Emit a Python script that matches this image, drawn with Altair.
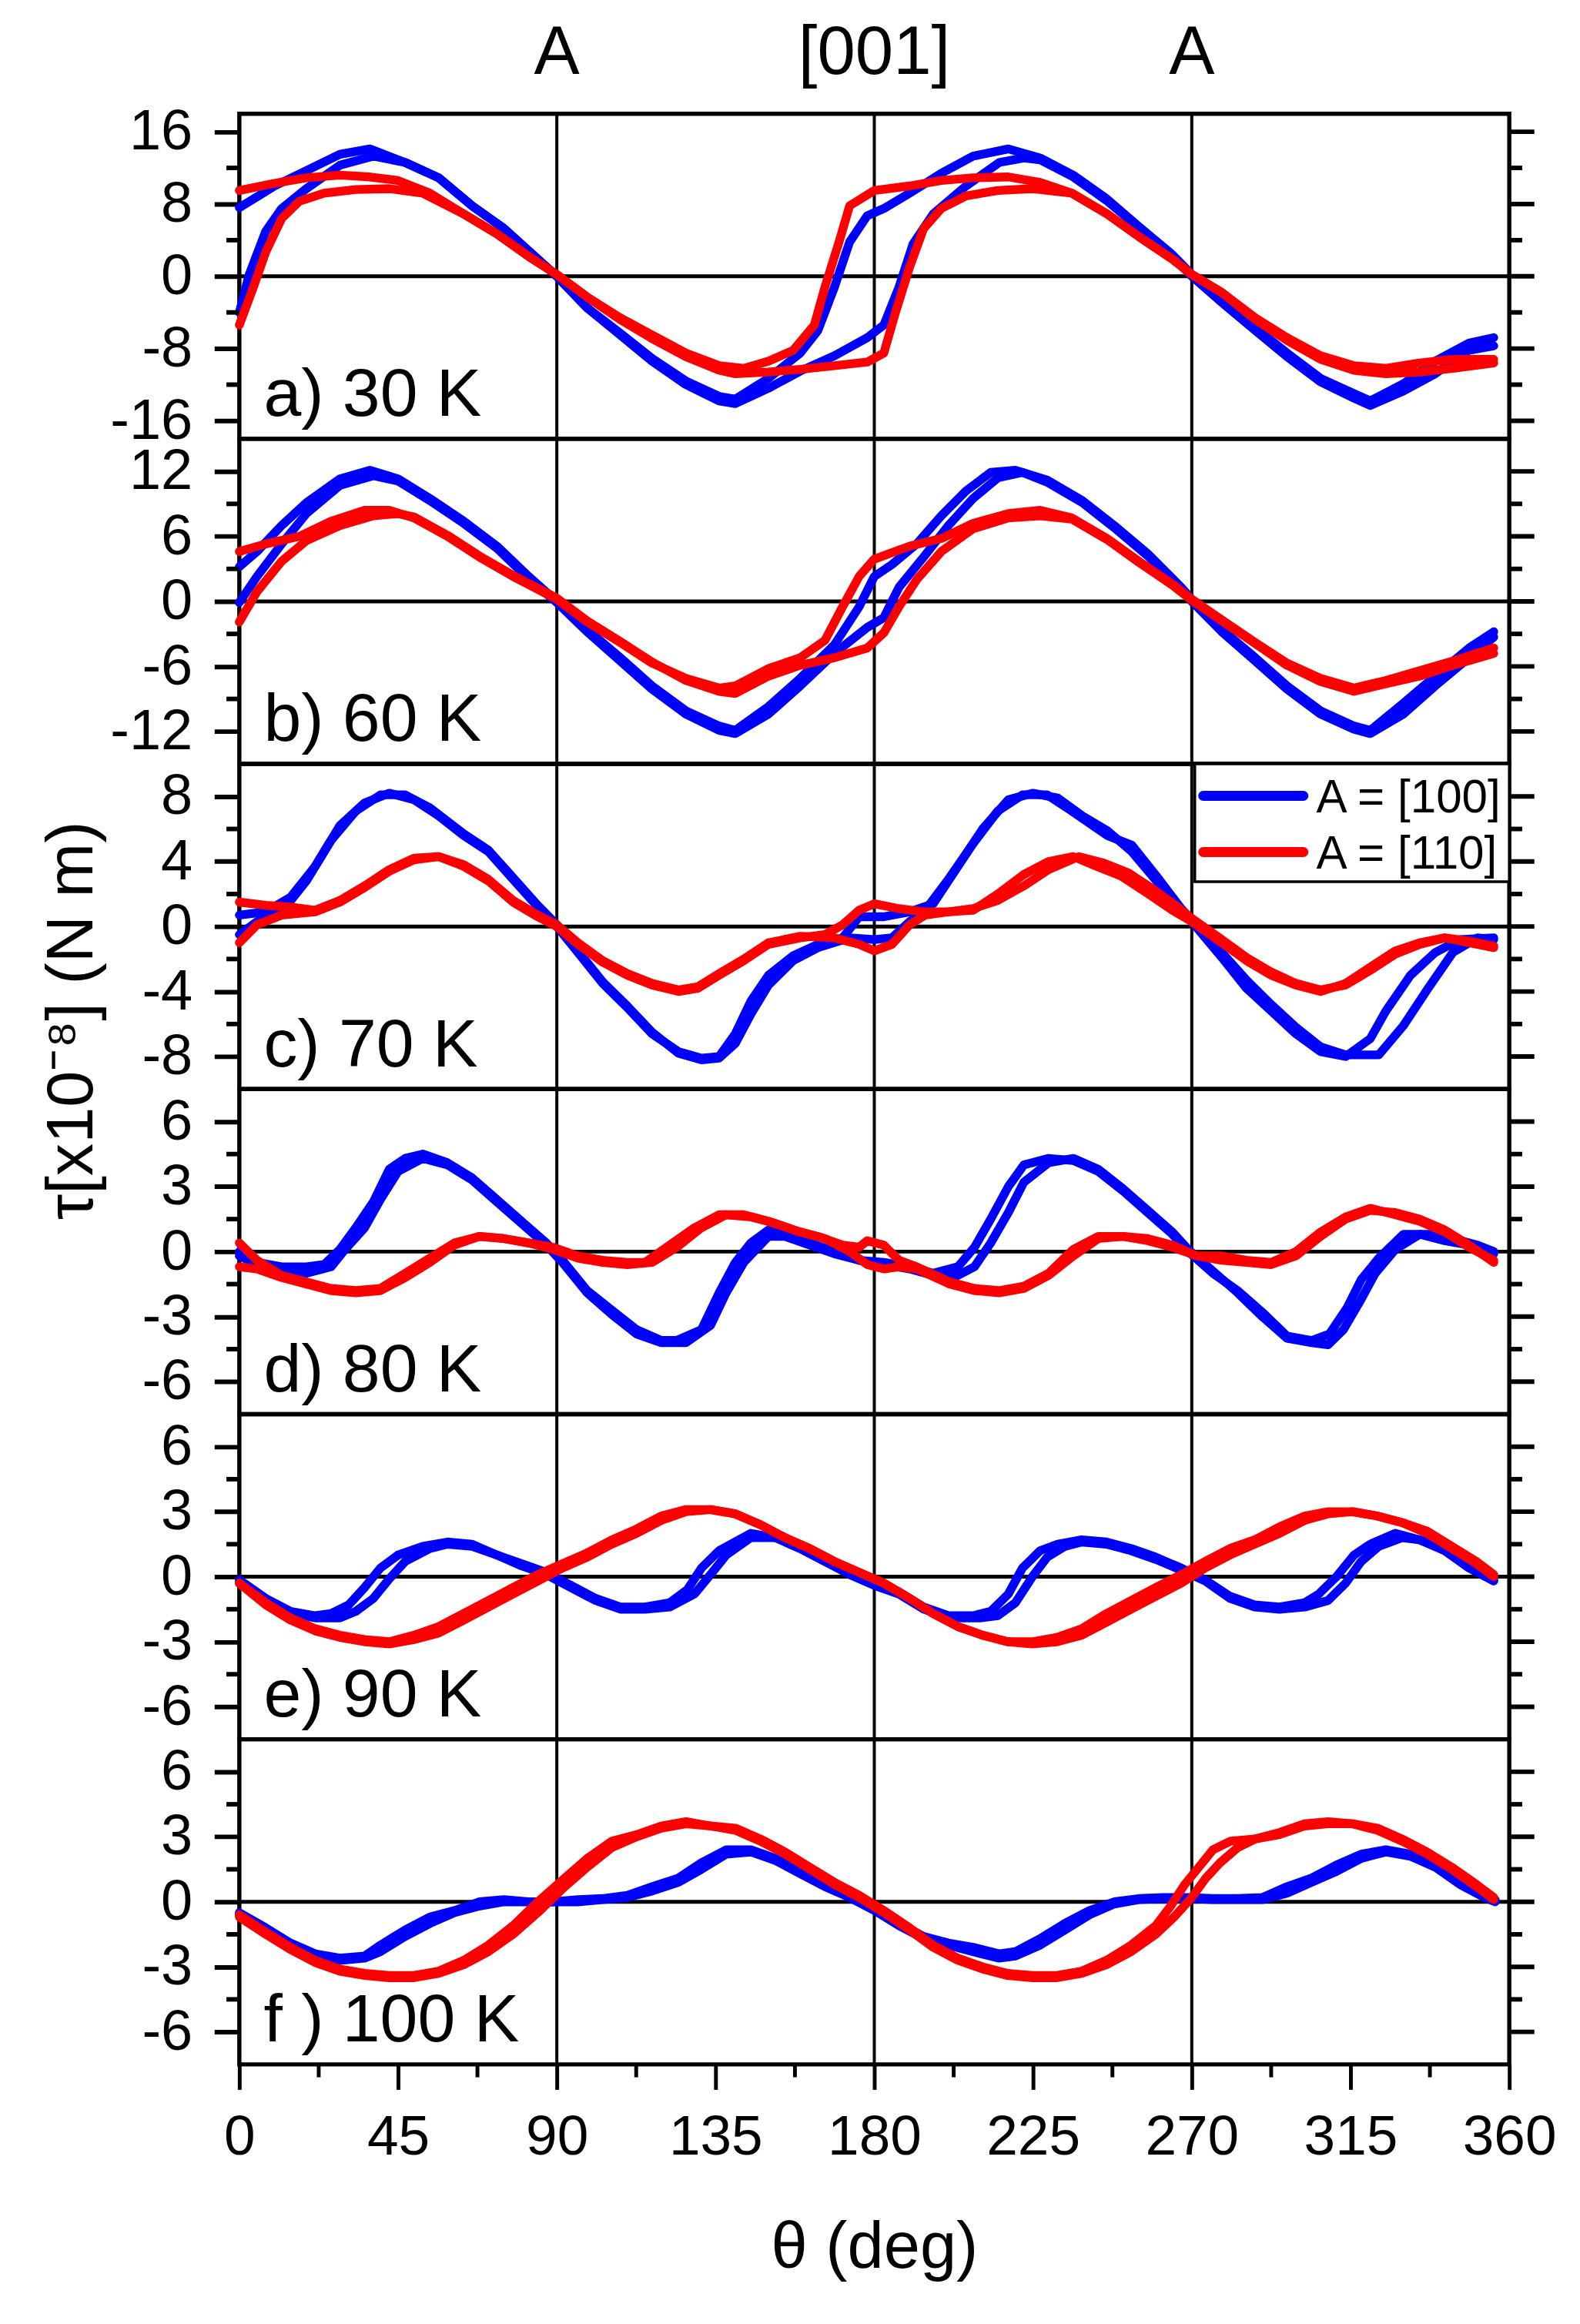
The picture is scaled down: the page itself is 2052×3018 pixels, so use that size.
import altair as alt
import pandas as pd

FONT = "Liberation Sans, Arial, Helvetica, sans-serif"
W, H = 1672, 428

SERIES = ["A = [100]", "A = [110]"]
COLORS = ["#0000FF", "#FF0000"]
PANEL_LABELS = ["a) 30 K", "b) 60 K", "c) 70 K", "d) 80 K", "e) 90 K", "f ) 100 K"]
TOP_THETA = [90, 180, 270]
TOP_LABELS = ["A", "[001]", "A"]
GRID_THETA = [90, 180, 270]
THETA_TICKS = [0, 45, 90, 135, 180, 225, 270, 315, 360]
THETA_MINOR = [22.5, 67.5, 112.5, 157.5, 202.5, 247.5, 292.5, 337.5]
Y_DOMAINS = [[-18, 18], [-15, 15], [-10, 10], [-7.5, 7.5], [-7.5, 7.5], [-7.5, 7.5]]
Y_TICKS = [[-16, -8, 0, 8, 16], [-12, -6, 0, 6, 12], [-8, -4, 0, 4, 8],
           [-6, -3, 0, 3, 6], [-6, -3, 0, 3, 6], [-6, -3, 0, 3, 6]]
Y_MINOR = [[-12, -4, 4, 12], [-9, -3, 3, 9], [-6, -2, 2, 6],
           [-4.5, -1.5, 1.5, 4.5], [-4.5, -1.5, 1.5, 4.5], [-4.5, -1.5, 1.5, 4.5]]
Y_TITLE = "τ[x10⁻⁸] (N m)"
X_TITLE = "θ (deg)"

# ---------------- 30 K ----------------
K30_BLUE_1 = [(0,7.6),(10,10.0),(19,11.7),(28.5,13.5),(37,14.1),(47,12.6),(56.5,10.9),(66,7.8),(75,5.3),(84.6,1.9),(90,0),(98.6,-3.5),(108,-6.3),(117,-9.1),(126.6,-11.6),(136,-13.3),(140.6,-13.6),(150,-11.3),(159,-8.5),(164,-6.0),(168.7,-1.2),(173,3.8),(178,6.7),(182.7,7.5),(190,9.2),(199,11.4),(208,13.3),(218,14.1),(227,13.1),(236.4,11.2),(245.8,8.6),(255,5.5),(264.5,2.4),(270,0.2),(278.5,-2.6),(288,-5.7),(297,-8.5),(306.5,-11.3),(316,-13.0),(320.6,-13.8),(330,-11.9),(339,-9.4),(348.6,-7.4),(355.6,-6.8)]
K30_BLUE_2 = [(0,-4.0),(2.8,0.2),(7.5,5.0),(12,7.5),(19,9.7),(28.5,12.3),(38,13.3),(47,12.6),(56.5,10.9),(66,7.8),(75,5.3),(84.6,1.9),(90,0),(98.6,-3.5),(108,-6.5),(117,-9.4),(126.6,-12.0),(136,-13.8),(140.6,-14.1),(150,-12.4),(159,-10.5),(168.7,-8.8),(178,-6.8),(182.7,-5.4),(187,-1.2),(191,3.6),(196.7,6.9),(206,10.0),(215.4,12.6),(222.4,13.1),(227,12.9),(236.4,11.0),(245.8,8.4),(255,5.4),(264.5,2.2),(270,0),(278.5,-2.9),(288,-6.0),(297,-8.9),(306.5,-11.7),(316,-13.5),(320.6,-14.3),(330,-12.7),(339,-10.8),(348.6,-8.2),(355.6,-7.7)]
K30_RED_1 = [(0,9.5),(10,10.3),(19,10.9),(28.5,11.2),(37,11.0),(45,10.6),(54,9.2),(63.6,6.9),(73,4.7),(82,2.2),(90,0.2),(98.6,-2.3),(108,-4.6),(117,-6.5),(126.6,-8.5),(136,-9.9),(143,-10.2),(150,-9.4),(157,-8.2),(163,-5.4),(166,-1.2),(170,3.8),(173,7.8),(180,9.5),(190,10.0),(199,10.6),(208,10.9),(218,11.0),(227,10.4),(236,9.2),(246,6.9),(255,4.4),(264.5,1.9),(270,0.2),(278.5,-1.8),(288,-4.6),(297,-6.8),(306.5,-8.8),(316,-9.9),(325,-10.2),(334.6,-9.6),(344,-9.2),(355.6,-9.2)]
K30_RED_2 = [(0,-5.4),(4,-1.2),(7.5,2.7),(12,6.4),(17,8.3),(24,9.2),(33,9.6),(42.5,9.7),(52,9.2),(63.6,6.9),(73,4.7),(82,2.2),(90,0.2),(98.6,-2.3),(108,-4.8),(117,-6.9),(126.6,-8.9),(136,-10.4),(140.6,-10.8),(150,-10.6),(159,-10.3),(168.7,-9.9),(178,-9.5),(182.7,-8.5),(186,-4.0),(190,1.0),(194,5.3),(199,7.5),(206,8.9),(215,9.5),(225,9.7),(236,9.2),(246,6.9),(255,4.4),(264.5,1.9),(270,0.2),(278.5,-1.8),(288,-4.8),(297,-7.1),(306.5,-9.2),(316,-10.4),(325,-10.8),(334.6,-10.6),(344,-10.2),(355.6,-9.6)]

# ---------------- 60 K ----------------
K60_BLUE_1 = [(0,3.2),(5,4.6),(12,7.0),(19,9.1),(28.5,11.3),(37,12.1),(45,11.3),(54,9.5),(63.6,7.4),(73,5.1),(82,2.3),(90,0),(98.6,-2.6),(108,-5.2),(117,-7.8),(126.6,-10.1),(136,-11.5),(140.6,-11.9),(150,-9.7),(159,-7.1),(168.7,-4.0),(175.7,-0.5),(180,2.3),(185,3.4),(192,5.3),(199,7.9),(206,10.2),(213,11.9),(220,12.1),(229,11.2),(239,9.3),(248,7.0),(257.5,4.4),(267,1.3),(270,0.2),(278.5,-2.6),(288,-5.2),(297,-7.8),(306.5,-10.1),(316,-11.5),(320.6,-11.9),(330,-9.4),(339,-6.9),(348.6,-4.3),(355.6,-2.8)]
K60_BLUE_2 = [(0,-0.1),(5,2.3),(12,5.3),(19,8.1),(28.5,10.7),(38,11.6),(45,11.1),(54,9.3),(63.6,7.2),(73,4.9),(82,2.1),(90,-0.1),(98.6,-2.8),(108,-5.5),(117,-8.1),(126.6,-10.4),(136,-11.9),(140.6,-12.2),(150,-10.4),(159,-7.8),(168.7,-4.8),(178,-2.4),(182.7,-1.5),(187,1.3),(194,4.1),(201,7.0),(208,9.5),(215,11.4),(222,11.9),(229,11.0),(239,9.1),(248,6.8),(257.5,4.2),(267,1.1),(270,0),(278.5,-2.8),(288,-5.5),(297,-8.1),(306.5,-10.4),(316,-11.8),(320.6,-12.2),(330,-10.4),(339,-7.8),(348.6,-5.2),(355.6,-3.3)]
K60_RED_1 = [(0,4.6),(7.5,5.3),(17,6.0),(26,7.4),(35.5,8.4),(42.5,8.4),(49.5,7.7),(59,6.0),(68,4.1),(77.6,2.3),(90,0.2),(98.6,-1.9),(108,-3.8),(117,-5.7),(126.6,-7.1),(136,-8.0),(140.6,-7.8),(150,-6.2),(159,-5.2),(166,-3.6),(171,-0.5),(175.7,2.3),(180,3.9),(190,5.1),(199,5.8),(208,7.2),(218,8.1),(227,8.4),(236,7.7),(246,5.8),(255,3.7),(264.5,1.6),(270,0.2),(278.5,-1.7),(288,-3.8),(297,-5.7),(306.5,-7.1),(316,-8.0),(325,-7.3),(334.6,-6.4),(344,-5.5),(355.6,-4.3)]
K60_RED_2 = [(0,-1.9),(5,0.9),(12,3.7),(19,5.6),(28.5,7.0),(38,7.9),(45,8.1),(49.5,7.8),(59,6.1),(68,4.2),(77.6,2.4),(90,0.3),(98.6,-1.8),(108,-3.7),(117,-5.6),(126.6,-7.3),(136,-8.3),(140.6,-8.5),(150,-6.9),(159,-5.9),(168.7,-5.2),(178,-4.3),(182.7,-2.9),(187,-0.5),(192,2.0),(199,4.6),(208,6.7),(218,7.7),(227,7.9),(236,7.6),(246,5.7),(255,3.6),(264.5,1.5),(270,0.1),(278.5,-1.8),(288,-3.9),(297,-5.9),(306.5,-7.4),(316,-8.3),(325,-7.6),(334.6,-6.9),(344,-5.9),(355.6,-4.8)]

# ---------------- 70 K ----------------
K70_BLUE_1 = [(0,0.7),(7.5,0.9),(14.5,1.8),(21.5,3.7),(28.5,6.2),(35.5,7.6),(42.5,8.2),(49.5,7.8),(56.5,6.8),(63.6,5.6),(70.6,4.6),(77.6,2.9),(84.6,1.2),(90,0),(96,-1.6),(103,-3.5),(110,-5.0),(117,-6.6),(124.5,-7.7),(131,-8.1),(136,-8.0),(140.6,-6.6),(145,-4.6),(150,-3.0),(157,-1.8),(164,-1.1),(171,-0.7),(175.7,0.6),(182.7,0.6),(190,0.9),(196.7,1.4),(203.7,3.7),(210.7,6.0),(218,7.8),(225,8.2),(232,7.9),(239,6.8),(246,5.9),(253,4.6),(260,2.8),(267,0.9),(270,0.3),(278.5,-1.9),(285.5,-3.8),(292.5,-5.2),(299.5,-6.6),(306.5,-7.7),(313.6,-8.0),(320.6,-6.9),(325,-5.2),(332,-3.0),(339,-1.6),(346,-0.8),(355.6,-0.7)]
K70_BLUE_2 = [(0,-0.5),(5,0.3),(12,0.9),(19,2.8),(26,5.3),(33,7.1),(40,8.1),(47,8.1),(54,7.3),(63.6,5.7),(70.6,4.7),(77.6,3.0),(84.6,1.3),(90,0.1),(96,-1.5),(103,-3.4),(110,-4.9),(117,-6.5),(124.5,-7.8),(131,-8.2),(136,-8.1),(140.6,-7.2),(145,-5.4),(150,-3.6),(157,-2.1),(164,-1.3),(173,-0.7),(180,-0.8),(185,-0.7),(190,0.3),(194.4,1.0),(201,2.9),(208,5.1),(215,7.1),(222,8.1),(229,8.1),(236,7.1),(246,5.6),(253,5.0),(260,3.1),(267,1.1),(270,0.4),(278.5,-1.6),(285.5,-3.3),(292.5,-4.8),(299.5,-6.2),(306.5,-7.4),(313.6,-7.9),(323,-7.9),(330,-6.1),(337,-3.8),(344,-1.6),(351,-0.7),(355.6,-0.8)]
K70_RED_1 = [(0,1.5),(7.5,1.3),(14.5,1.2),(21.5,1.0),(28.5,1.6),(35.5,2.5),(42.5,3.5),(49.5,4.2),(56.5,4.3),(63.6,3.7),(70.6,2.8),(77.6,1.5),(84.6,0.6),(90,0),(96,-1.1),(103,-2.2),(110,-3.0),(117,-3.6),(124.5,-4.0),(130,-3.8),(136,-3.0),(143,-2.1),(150,-1.1),(159,-0.7),(166,-0.5),(171,0.1),(175.7,1.0),(180,1.4),(187,1.1),(194,0.9),(201,0.9),(208,1.0),(215,2.0),(222.4,3.2),(229.4,4.0),(236.4,4.3),(243,3.7),(250,3.1),(257,2.1),(264.5,1.0),(270,0.3),(278.5,-1.0),(285.5,-2.1),(292.5,-3.0),(299.5,-3.6),(306.5,-4.0),(313.6,-3.5),(320.6,-2.5),(327.7,-1.5),(334.6,-1.0),(341.7,-0.7),(348.6,-1.0),(355.6,-1.3)]
K70_RED_2 = [(0,-1.0),(5,0.1),(12,0.7),(21.5,0.9),(28.5,1.5),(35.5,2.4),(42.5,3.4),(49.5,4.1),(56.5,4.3),(63.6,3.8),(70.6,2.9),(77.6,1.6),(84.6,0.7),(90,0.1),(96,-1.0),(103,-2.1),(110,-2.9),(117,-3.5),(124.5,-3.9),(130,-3.7),(136,-2.9),(143,-2.0),(150,-1.0),(159,-0.6),(168.7,-0.7),(175.7,-1.1),(180,-1.5),(185,-1.1),(190,0.1),(194.4,0.7),(201,0.9),(208,1.1),(215,1.6),(222.4,2.5),(229.4,3.5),(238,4.3),(245,3.9),(252,3.3),(259,2.3),(266,1.2),(270,0.5),(278.5,-0.8),(285.5,-1.9),(292.5,-2.8),(299.5,-3.5),(306.5,-3.9),(313.6,-3.6),(320.6,-2.7),(327.7,-1.7),(334.6,-1.1),(341.7,-0.7),(348.6,-0.9),(355.6,-1.2)]

# ---------------- 80 K ----------------
K80_BLUE_1 = [(0,0),(5,-0.5),(12,-0.7),(19,-0.7),(24,-0.6),(28.5,0.1),(33,1.1),(38,2.3),(42.5,3.8),(47,4.3),(52,4.5),(59,4.1),(66,3.4),(73,2.4),(80,1.4),(87,0.4),(91.6,-0.4),(98.6,-1.8),(105.6,-2.7),(112.6,-3.6),(119.6,-4.1),(124,-4.1),(131,-3.6),(136,-1.9),(140.6,-0.5),(145,0.4),(150,1.0),(154.7,0.8),(161.7,0.4),(168.7,0),(175.7,-0.4),(182.7,-0.5),(190,-0.7),(196.7,-1.0),(203.7,-0.7),(208.4,0.2),(213,1.5),(218,3.0),(222.4,4.0),(229.4,4.3),(236.4,4.2),(243.5,3.7),(250.5,2.8),(257.5,1.8),(264.5,0.8),(269,0),(276,-1.0),(283,-1.8),(290,-2.8),(297,-3.9),(304,-4.1),(309,-3.8),(314,-2.6),(318,-1.3),(323,-0.3),(330,0.8),(337,0.8),(344,0.6),(351,0.3),(355.6,0)]
K80_BLUE_2 = [(0,-0.2),(5,-0.6),(12,-0.9),(19,-1.0),(26,-0.7),(30,0.1),(35.5,1.1),(40,2.4),(45,3.7),(52,4.3),(59,4.0),(66,3.3),(73,2.3),(80,1.3),(87,0.3),(91.6,-0.5),(98.6,-1.9),(105.6,-2.9),(112.6,-3.8),(119.6,-4.2),(126.6,-4.2),(133.6,-3.4),(138,-1.9),(143,-0.5),(150,0.7),(154.7,0.7),(161.7,0.3),(168.7,-0.1),(175.7,-0.4),(182.7,-0.6),(190,-0.8),(196.7,-1.1),(203.7,-1.1),(208.4,-0.7),(213,0.4),(218,1.8),(222.4,3.2),(229.4,4.1),(236.4,4.3),(243.5,3.8),(250.5,2.9),(257.5,1.9),(264.5,0.9),(269,0.1),(276,-0.9),(283,-1.9),(290,-3.0),(297,-4.0),(304,-4.2),(308.6,-4.3),(313,-3.6),(318,-2.2),(322,-1.0),(327.7,0.1),(334.6,0.8),(341.7,0.5),(348.6,0.3),(355.6,-0.1)]
K80_RED_1 = [(0,0.4),(5,-0.4),(12,-1.1),(19,-1.4),(26,-1.7),(33,-1.8),(40,-1.7),(47,-1.0),(54,-0.3),(61,0.4),(68,0.7),(75,0.6),(82,0.4),(89,0.2),(96,-0.2),(103,-0.4),(110,-0.5),(115,-0.5),(122,0.3),(129,1.1),(136,1.7),(143,1.7),(150,1.4),(157,1.0),(164,0.7),(171,0.3),(175.7,0.2),(178,0.5),(182.7,0.3),(187,-0.4),(192,-0.7),(201.4,-1.4),(208.4,-1.7),(215.4,-1.8),(222.4,-1.6),(229.4,-1.0),(236.4,0.1),(243.5,0.7),(250.5,0.7),(257.5,0.6),(264.5,0.3),(271.5,-0.2),(278.5,-0.2),(285.5,-0.4),(292.5,-0.5),(299.5,0),(306.5,0.9),(313.6,1.6),(320.6,2.0),(327.7,1.7),(334.6,1.4),(341.7,0.9),(348.6,0.2),(355.6,-0.4)]
K80_RED_2 = [(0,-0.7),(5,-0.8),(12,-1.2),(19,-1.5),(26,-1.8),(33,-1.9),(40,-1.8),(47,-1.2),(54,-0.5),(61,0.3),(68,0.7),(75,0.6),(82,0.4),(89,0.1),(96,-0.3),(103,-0.5),(110,-0.6),(117,-0.5),(124,0.2),(131,1.1),(138,1.7),(145,1.6),(152,1.3),(159,0.9),(166,0.6),(173,0),(178,-0.6),(182.7,-0.8),(187,-0.7),(192,-0.8),(201.4,-1.5),(208.4,-1.8),(215.4,-1.9),(222.4,-1.7),(229.4,-1.1),(236.4,-0.2),(243.5,0.6),(250.5,0.7),(257.5,0.5),(264.5,0.2),(271.5,-0.2),(278.5,-0.4),(285.5,-0.5),(292.5,-0.6),(299.5,-0.2),(306.5,0.7),(313.6,1.5),(320.6,1.9),(327.7,1.8),(334.6,1.5),(341.7,1.0),(348.6,0.3),(355.6,-0.5)]

# ---------------- 90 K ----------------
K90_BLUE_1 = [(0,-0.15),(7.5,-1.0),(14.5,-1.6),(21.5,-1.8),(26,-1.7),(31,-1.3),(35.5,-0.5),(40,0.4),(45,1.0),(52,1.4),(59,1.6),(66,1.5),(73,1.0),(80,0.6),(87,0.2),(94,-0.4),(101,-1.0),(108,-1.4),(115,-1.4),(122,-1.2),(127,-0.6),(131,0.4),(136,1.2),(145,2.0),(152,1.8),(159,1.3),(166,0.7),(173,0.2),(180,-0.3),(187,-0.7),(194,-1.4),(201,-1.8),(208,-1.8),(213,-1.6),(218,-0.8),(222,0.4),(227,1.2),(232,1.5),(238.8,1.7),(245.8,1.6),(252.8,1.3),(259.8,0.9),(267,0.4),(273.8,-0.15),(280.8,-0.9),(287.8,-1.3),(294.9,-1.4),(302,-1.2),(306,-0.8),(311,0.0),(316,1.0),(320.6,1.5),(327.7,2.0),(334.6,1.7),(341.7,1.3),(348.6,0.5),(355.6,-0.15)]
K90_BLUE_2 = [(0,-0.2),(7.5,-1.1),(14.5,-1.7),(21.5,-1.9),(28.5,-1.9),(33,-1.6),(38,-1.0),(42.5,-0.1),(47,0.7),(54,1.3),(59,1.5),(66,1.4),(73,1.0),(80,0.5),(87,0.1),(94,-0.5),(101,-1.1),(108,-1.5),(115,-1.5),(122,-1.4),(129,-0.8),(133.6,0.1),(138,1.0),(145,1.8),(152,1.8),(159,1.3),(166,0.7),(173,0.1),(180,-0.4),(187,-0.8),(194,-1.5),(201,-1.9),(210,-1.9),(215,-1.8),(220,-1.2),(224.8,0.0),(229,0.9),(234,1.4),(238.8,1.6),(245.8,1.5),(252.8,1.2),(259.8,0.8),(267,0.3),(273.8,-0.2),(280.8,-1.0),(287.8,-1.4),(294.9,-1.5),(302,-1.4),(308.6,-1.1),(313.6,-0.3),(318,0.7),(323,1.4),(329.6,1.8),(334.6,1.7),(341.7,1.2),(348.6,0.4),(355.6,-0.2)]
K90_RED_1 = [(0,-0.3),(7.5,-1.2),(14.5,-1.9),(21.5,-2.4),(28.5,-2.7),(35.5,-2.9),(42.5,-3.0),(49.5,-2.7),(56.5,-2.3),(63.6,-1.7),(70.6,-1.1),(77.6,-0.5),(84.6,0.1),(91.6,0.6),(98.6,1.1),(105.6,1.7),(112.6,2.2),(119.6,2.8),(126.6,3.1),(133.6,3.1),(140.6,2.9),(147.7,2.4),(154.7,1.8),(161.7,1.3),(168.7,0.7),(175.7,0.2),(182.7,-0.3),(190,-1.0),(196.7,-1.7),(203.7,-2.3),(210.7,-2.7),(217.8,-3.0),(224.8,-3.0),(231.8,-2.8),(238.8,-2.4),(245.8,-1.7),(252.8,-1.1),(259.8,-0.5),(267,0.1),(273.8,0.7),(280.8,1.3),(287.8,1.7),(294.9,2.3),(302,2.8),(308.6,3.0),(315.6,3.0),(322.6,2.8),(329.6,2.5),(336.7,2.1),(343.7,1.4),(350.7,0.7),(355.6,0.1)]
K90_RED_2 = [(0,-0.3),(7.5,-1.3),(14.5,-2.0),(21.5,-2.5),(28.5,-2.8),(35.5,-3.0),(42.5,-3.1),(49.5,-2.9),(56.5,-2.6),(63.6,-2.0),(70.6,-1.4),(77.6,-0.8),(84.6,-0.2),(91.6,0.4),(98.6,0.9),(105.6,1.5),(112.6,2.0),(119.6,2.6),(126.6,3.0),(133.6,3.1),(140.6,2.9),(147.7,2.4),(154.7,1.8),(161.7,1.3),(168.7,0.7),(175.7,0.2),(182.7,-0.3),(190,-1.0),(196.7,-1.7),(203.7,-2.3),(210.7,-2.7),(217.8,-3.0),(224.8,-3.1),(231.8,-3.0),(238.8,-2.7),(245.8,-2.1),(252.8,-1.5),(259.8,-0.9),(267,-0.3),(273.8,0.4),(280.8,1.0),(287.8,1.5),(294.9,2.0),(302,2.6),(308.6,2.9),(315.6,3.0),(322.6,2.8),(329.6,2.5),(336.7,2.0),(343.7,1.3),(350.7,0.6),(355.6,0.0)]

# ---------------- 100 K ----------------
K100_BLUE_1 = [(0,-0.5),(7.5,-1.2),(14.5,-1.9),(21.5,-2.4),(28.5,-2.6),(35.5,-2.5),(40,-2.0),(47,-1.3),(54,-0.7),(61,-0.4),(68,0),(75,0.1),(82,0),(89,0),(96,0.1),(103,0.15),(110,0.3),(117,0.7),(124.5,1.1),(131,1.8),(138,2.4),(145,2.4),(152,2.0),(159,1.4),(166,0.8),(173,0.3),(180,-0.3),(187,-1.0),(194,-1.6),(201,-1.9),(208,-2.1),(215.4,-2.4),(220,-2.3),(227,-1.7),(234,-1.0),(241,-0.4),(248,0),(255,0.15),(262,0.2),(269,0.2),(276,0.15),(283,0.15),(290,0.2),(297,0.7),(304,1.1),(311,1.7),(318,2.2),(325,2.4),(332,2.2),(339,1.7),(346,0.9),(353,0.3),(356,0.1)]
K100_BLUE_2 = [(0,-0.6),(7.5,-1.3),(14.5,-2.0),(21.5,-2.5),(28.5,-2.7),(35.5,-2.6),(40,-2.3),(47,-1.6),(54,-1.0),(61,-0.5),(68,-0.2),(75,0),(82,0),(89,0),(96,0),(103,0.1),(110,0.2),(117,0.5),(124.5,0.9),(131,1.5),(138,2.2),(145,2.3),(152,1.9),(159,1.3),(166,0.7),(173,0.2),(180,-0.4),(187,-1.1),(194,-1.7),(201,-2.0),(208,-2.3),(215.4,-2.6),(220,-2.5),(227,-2.0),(234,-1.3),(241,-0.6),(248,-0.1),(255,0.1),(262,0.15),(269,0.15),(276,0.1),(283,0.1),(290,0.1),(297,0.4),(304,0.9),(311,1.4),(318,2.0),(325,2.3),(332,2.1),(339,1.6),(346,0.8),(353,0.2),(356,0.0)]
K100_RED_1 = [(0,-0.6),(7.5,-1.4),(14.5,-2.1),(21.5,-2.7),(28.5,-3.1),(35.5,-3.3),(42.5,-3.4),(49.5,-3.4),(56.5,-3.2),(63.6,-2.7),(70.6,-2.0),(77.6,-1.1),(84.6,0),(91.6,1.0),(98.6,2.0),(105.6,2.8),(112.6,3.1),(119.6,3.5),(126.6,3.7),(133.6,3.5),(140.6,3.4),(147.7,2.9),(154.7,2.3),(161.7,1.6),(168.7,0.9),(175.7,0.3),(182.7,-0.4),(190,-1.2),(196.7,-2.0),(203.7,-2.6),(210.7,-3.0),(217.8,-3.3),(224.8,-3.4),(231.8,-3.4),(238.8,-3.2),(245.8,-2.7),(252.8,-2.0),(259.8,-1.1),(264,-0.2),(268,0.8),(272,1.6),(276,2.4),(281,2.8),(287.8,2.9),(294.9,3.2),(302,3.6),(308.6,3.7),(315.6,3.6),(322.6,3.4),(329.6,2.9),(336.7,2.3),(343.7,1.6),(350.7,0.8),(355.6,0.2)]
K100_RED_2 = [(0,-0.7),(7.5,-1.5),(14.5,-2.2),(21.5,-2.8),(28.5,-3.2),(35.5,-3.4),(42.5,-3.5),(49.5,-3.5),(56.5,-3.3),(63.6,-2.9),(70.6,-2.3),(77.6,-1.5),(84.6,-0.5),(91.6,0.6),(98.6,1.6),(105.6,2.5),(112.6,3.0),(119.6,3.4),(126.6,3.6),(133.6,3.5),(140.6,3.3),(147.7,2.8),(154.7,2.2),(161.7,1.5),(168.7,0.8),(175.7,0.2),(182.7,-0.5),(190,-1.3),(196.7,-2.1),(203.7,-2.7),(210.7,-3.1),(217.8,-3.4),(224.8,-3.5),(231.8,-3.5),(238.8,-3.3),(245.8,-2.9),(252.8,-2.3),(259.8,-1.5),(265,-0.7),(270,0.2),(274,1.1),(278,1.8),(283,2.5),(288,2.9),(294.9,3.1),(302,3.5),(308.6,3.6),(315.6,3.6),(322.6,3.3),(329.6,2.8),(336.7,2.2),(343.7,1.5),(350.7,0.7),(355.6,0.1)]

PANEL_CURVES = [
    [K30_BLUE_1, K30_BLUE_2, K30_RED_1, K30_RED_2],
    [K60_BLUE_1, K60_BLUE_2, K60_RED_1, K60_RED_2],
    [K70_BLUE_1, K70_BLUE_2, K70_RED_1, K70_RED_2],
    [K80_BLUE_1, K80_BLUE_2, K80_RED_1, K80_RED_2],
    [K90_BLUE_1, K90_BLUE_2, K90_RED_1, K90_RED_2],
    [K100_BLUE_1, K100_BLUE_2, K100_RED_1, K100_RED_2],
]


def curve_frame(curves):
    rows = []
    for k, pts in enumerate(curves):
        s = SERIES[k // 2]
        for t, v in pts:
            rows.append({"theta": t, "tau": v, "series": s, "branch": f"b{k}"})
    return pd.DataFrame(rows)


def make_panel(i):
    last = i == 5
    xs = alt.Scale(domain=[0, 360], nice=False, zero=False)
    ys = alt.Scale(domain=Y_DOMAINS[i], nice=False, zero=False)
    if last:
        xaxis = alt.Axis(values=THETA_TICKS, title=X_TITLE, grid=False, domain=False,
                         tickSize=33, tickWidth=5, tickColor="black",
                         labelFontSize=74, labelPadding=27, labelFlush=False,
                         labelExpr="datum.value",
                         titleFontSize=86, titlePadding=66)
    else:
        xaxis = None
    yaxis = alt.Axis(values=Y_TICKS[i], title=None, grid=False, domain=False,
                     tickSize=33, tickWidth=6, tickColor="black",
                     labelFontSize=75, labelPadding=29, labelExpr="datum.value")

    def X(field="theta"):
        return alt.X(f"{field}:Q", scale=xs, axis=xaxis)

    def Y(field="tau"):
        return alt.Y(f"{field}:Q", scale=ys, axis=yaxis)

    grid = alt.Chart(pd.DataFrame({"theta": GRID_THETA})).mark_rule(
        color="black", strokeWidth=4).encode(x=X())
    zero = alt.Chart(pd.DataFrame({"tau": [0]})).mark_rule(
        color="black", strokeWidth=5).encode(y=Y())
    lines = alt.Chart(curve_frame(PANEL_CURVES[i])).mark_line(
        strokeWidth=11.5, strokeJoin="round", strokeCap="round").encode(
        x=X(), y=Y(),
        color=alt.Color("series:N", scale=alt.Scale(domain=SERIES, range=COLORS), legend=None),
        detail="branch:N",
    )
    minor_l = alt.Chart(pd.DataFrame({"tau": Y_MINOR[i]})).mark_rule(
        color="black", strokeWidth=6).encode(y=Y(), x=alt.value(-17), x2=alt.value(0))
    major_r = alt.Chart(pd.DataFrame({"tau": Y_TICKS[i]})).mark_rule(
        color="black", strokeWidth=6).encode(y=Y(), x=alt.value(W), x2=alt.value(W + 33))
    minor_r = alt.Chart(pd.DataFrame({"tau": Y_MINOR[i]})).mark_rule(
        color="black", strokeWidth=6).encode(y=Y(), x=alt.value(W), x2=alt.value(W + 17))
    label = alt.Chart(pd.DataFrame({"label": [PANEL_LABELS[i]]})).mark_text(
        align="left", baseline="alphabetic", fontSize=89, font=FONT, color="black").encode(
        x=alt.value(32), y=alt.value(H - 30), text="label:N")

    layers = [grid, zero, lines, minor_l, major_r, minor_r, label]

    if i == 0:
        top = alt.Chart(pd.DataFrame({"theta": TOP_THETA, "label": TOP_LABELS})).mark_text(
            align="center", baseline="alphabetic", fontSize=90, font=FONT, color="black").encode(
            x=X(), y=alt.value(-52), text="label:N")
        layers.append(top)

    if i == 2:
        box = alt.Chart(pd.DataFrame({"label": ["legend"]})).mark_rect(
            fill="white", stroke="black", strokeWidth=3.5).encode(
            x=alt.value(1258), x2=alt.value(W), y=alt.value(0), y2=alt.value(155))
        layers.append(box)
        for k in range(2):
            yy = 42 + 74 * k
            sym = alt.Chart(pd.DataFrame({"label": [SERIES[k]]})).mark_rule(
                strokeWidth=13, strokeCap="round", color=COLORS[k]).encode(
                x=alt.value(1269), x2=alt.value(1401), y=alt.value(yy))
            txt = alt.Chart(pd.DataFrame({"label": [SERIES[k]]})).mark_text(
                align="left", baseline="alphabetic", fontSize=61, font=FONT, color="black").encode(
                x=alt.value(1418), y=alt.value(yy + 22), text="label:N")
            layers += [sym, txt]
        ytitle = alt.Chart(pd.DataFrame({"label": [Y_TITLE]})).mark_text(
            align="center", baseline="alphabetic", angle=270, fontSize=86, font=FONT,
            color="black").encode(x=alt.value(-193), y=alt.value(338), text="label:N")
        layers.append(ytitle)

    if last:
        minor_b = alt.Chart(pd.DataFrame({"theta": THETA_MINOR})).mark_rule(
            color="black", strokeWidth=5).encode(x=X(), y=alt.value(H), y2=alt.value(H + 17))
        layers.append(minor_b)

    return alt.layer(*layers).properties(width=W, height=H)


chart = alt.vconcat(*[make_panel(i) for i in range(6)], spacing=0, bounds="flush").properties(
    padding={"left": 42, "top": -6, "right": 20, "bottom": 20},
    background="white",
).configure_view(
    stroke="black", strokeWidth=5.5
).configure_axis(
    labelFont=FONT, titleFont=FONT, labelColor="black", titleColor="black",
    titleFontWeight="normal"
)

chart.save("out.html", embed_options={"renderer": "svg", "actions": False})
